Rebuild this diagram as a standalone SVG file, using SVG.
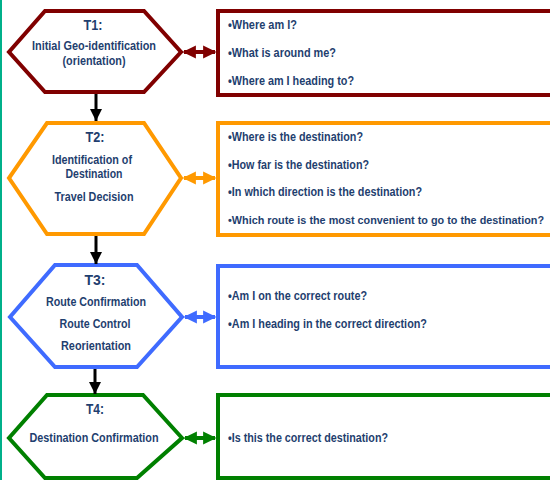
<svg xmlns="http://www.w3.org/2000/svg" width="550" height="480" viewBox="0 0 550 480">
<style>
.hx{fill:#fff;stroke-width:4;stroke-linejoin:miter}
.bx{fill:#fff;stroke-width:4}
.t{font-family:"Liberation Sans",Arial,sans-serif;font-weight:bold;fill:#1F3F6F;font-size:12px}
.h{font-size:14px;text-anchor:middle}
.c{text-anchor:middle}
.r{stroke:#800000}.o{stroke:#FF9900}.b{stroke:#3F6BFF}.g{stroke:#008000}
</style>
<defs>
<marker id="ad" viewBox="0 0 10 10" refX="10" refY="5" markerWidth="4" markerHeight="4" orient="auto" markerUnits="strokeWidth"><path d="M0,0L10,5L0,10z" fill="#000"/></marker>
<marker id="mr" viewBox="0 0 10 10" refX="9" refY="5" markerWidth="3.3" markerHeight="3.3" orient="auto-start-reverse" markerUnits="strokeWidth"><path d="M0,0L10,5L0,10z" fill="#800000"/></marker>
<marker id="mo" viewBox="0 0 10 10" refX="9" refY="5" markerWidth="3.3" markerHeight="3.3" orient="auto-start-reverse" markerUnits="strokeWidth"><path d="M0,0L10,5L0,10z" fill="#FF9900"/></marker>
<marker id="mb" viewBox="0 0 10 10" refX="9" refY="5" markerWidth="3.3" markerHeight="3.3" orient="auto-start-reverse" markerUnits="strokeWidth"><path d="M0,0L10,5L0,10z" fill="#3F6BFF"/></marker>
<marker id="mg" viewBox="0 0 10 10" refX="9" refY="5" markerWidth="3.3" markerHeight="3.3" orient="auto-start-reverse" markerUnits="strokeWidth"><path d="M0,0L10,5L0,10z" fill="#008000"/></marker>
</defs>
<rect x="0" y="0" width="550" height="480" fill="#fff"/>
<line x1="1" y1="0" x2="1" y2="480" stroke="#00B08A" stroke-width="2"/>

<g id="T1">
<polygon class="hx r" points="45,11 144,11 181,52 144,92 45,92 9,52"/>
<text class="t h" x="93" y="30" textLength="19" lengthAdjust="spacingAndGlyphs">T1:</text>
<text class="t c" x="94" y="50" textLength="124" lengthAdjust="spacingAndGlyphs">Initial Geo-identification</text>
<text class="t c" x="94" y="65" textLength="63" lengthAdjust="spacingAndGlyphs">(orientation)</text>
</g>
<g id="Q1">
<rect class="bx r" x="218" y="11" width="340" height="84"/>
<text class="t" x="228" y="29" textLength="69" lengthAdjust="spacingAndGlyphs">•Where am I?</text>
<text class="t" x="228" y="57" textLength="108" lengthAdjust="spacingAndGlyphs">•What is around me?</text>
<text class="t" x="228" y="85" textLength="126" lengthAdjust="spacingAndGlyphs">•Where am I heading to?</text>
</g>

<g id="T2">
<polygon class="hx o" points="47,123 144,123 181,178 144,234 47,234 9,178"/>
<text class="t h" x="95" y="142" textLength="19" lengthAdjust="spacingAndGlyphs">T2:</text>
<text class="t c" x="92" y="164" textLength="80" lengthAdjust="spacingAndGlyphs">Identification of</text>
<text class="t c" x="94" y="178" textLength="57" lengthAdjust="spacingAndGlyphs">Destination</text>
<text class="t c" x="94" y="201" textLength="79" lengthAdjust="spacingAndGlyphs">Travel Decision</text>
</g>
<g id="Q2">
<rect class="bx o" x="218" y="123" width="340" height="112"/>
<text class="t" x="228" y="141" textLength="135" lengthAdjust="spacingAndGlyphs">•Where is the destination?</text>
<text class="t" x="228" y="169" textLength="141" lengthAdjust="spacingAndGlyphs">•How far is the destination?</text>
<text class="t" x="228" y="196" textLength="194" lengthAdjust="spacingAndGlyphs">•In which direction is the destination?</text>
<text class="t" x="228" y="224" style="font-size:10.9px" textLength="316" lengthAdjust="spacingAndGlyphs">•Which route is the most convenient to go to the destination?</text>
</g>

<g id="T3">
<polygon class="hx b" points="55,265 137,265 182,317 137,367 55,367 10,317"/>
<text class="t h" x="95" y="285" textLength="21" lengthAdjust="spacingAndGlyphs">T3:</text>
<text class="t c" x="96" y="306" textLength="100" lengthAdjust="spacingAndGlyphs">Route Confirmation</text>
<text class="t c" x="95" y="328" textLength="71" lengthAdjust="spacingAndGlyphs">Route Control</text>
<text class="t c" x="96" y="350" textLength="70" lengthAdjust="spacingAndGlyphs">Reorientation</text>
</g>
<g id="Q3">
<rect class="bx b" x="218" y="266" width="340" height="101"/>
<text class="t" x="228" y="300" textLength="139" lengthAdjust="spacingAndGlyphs">•Am I on the correct route?</text>
<text class="t" x="228" y="328" textLength="199" lengthAdjust="spacingAndGlyphs">•Am I heading in the correct direction?</text>
</g>

<g id="T4">
<polygon class="hx g" points="47,395 143,395 182,438 137,478 45,478 9,438"/>
<text class="t h" x="95" y="414" textLength="18" lengthAdjust="spacingAndGlyphs">T4:</text>
<text class="t c" x="94" y="442" textLength="129" lengthAdjust="spacingAndGlyphs">Destination Confirmation</text>
</g>
<g id="Q4">
<rect class="bx g" x="218" y="395" width="340" height="83"/>
<text class="t" x="228" y="442" textLength="160" lengthAdjust="spacingAndGlyphs">•Is this the correct destination?</text>
</g>

<g id="connectors">
<line x1="96" y1="94" x2="96" y2="121" stroke="#000" stroke-width="3" marker-end="url(#ad)"/>
<line x1="96" y1="236" x2="96" y2="264" stroke="#000" stroke-width="3" marker-end="url(#ad)"/>
<line x1="95" y1="369" x2="95" y2="394" stroke="#000" stroke-width="3" marker-end="url(#ad)"/>
<line x1="184" y1="52" x2="215" y2="52" stroke="#800000" stroke-width="4" marker-start="url(#mr)" marker-end="url(#mr)"/>
<line x1="184" y1="178" x2="215" y2="178" stroke="#FF9900" stroke-width="4" marker-start="url(#mo)" marker-end="url(#mo)"/>
<line x1="185" y1="317" x2="215" y2="317" stroke="#3F6BFF" stroke-width="4" marker-start="url(#mb)" marker-end="url(#mb)"/>
<line x1="185" y1="438" x2="215" y2="438" stroke="#008000" stroke-width="4" marker-start="url(#mg)" marker-end="url(#mg)"/>
</g>
</svg>
